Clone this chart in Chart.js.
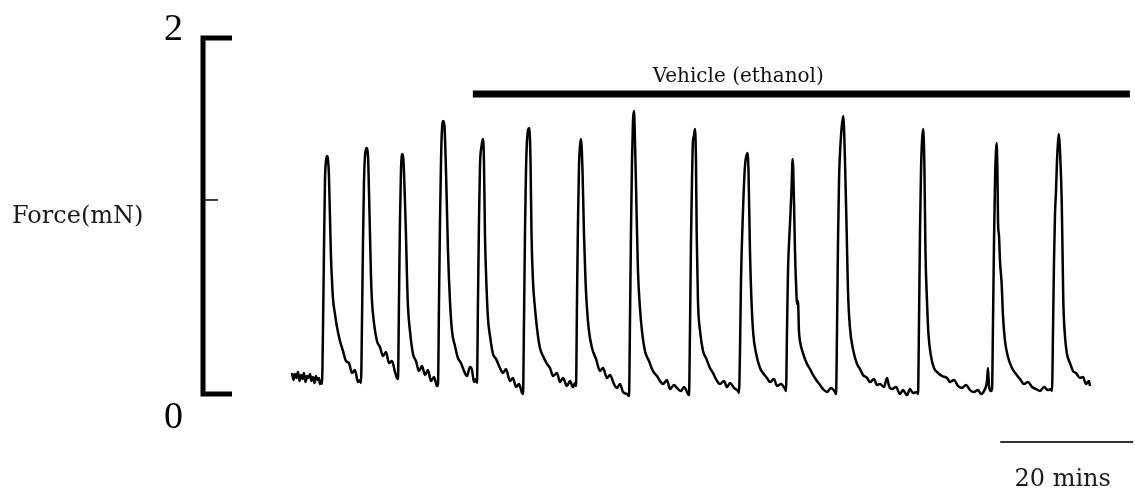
<!DOCTYPE html>
<html>
<head>
<meta charset="utf-8">
<script src="https://cdn.jsdelivr.net/npm/chart.js@4.4.1/dist/chart.umd.min.js"></script>
<style>
  html, body { margin: 0; padding: 0; background: #fff; }
  #wrap { width: 1135px; height: 488px; }
</style>
</head>
<body>
<div id="wrap"><canvas id="trace" width="1135" height="488"></canvas></div>
<script>
// isometric force recording, one line per contraction (time in min, force in mN)
const traceMinutes = [
  0.00, 0.23, 0.45, 0.68, 0.90, 1.13, 1.35, 1.58, 1.80, 2.03, 2.26, 2.48, 2.71, 2.93, 3.16, 3.38, 3.61, 3.83, 4.06, 4.21, 4.36,
  4.51, 4.66, 4.81, 4.96, 5.11, 5.26, 5.41, 5.56, 5.71, 5.86, 6.02, 6.17, 6.47, 6.77, 7.22, 7.67, 8.12, 8.57, 9.02, 9.47, 9.92, 10.23,
  10.38, 10.53, 10.68, 10.83, 10.98, 11.20, 11.43, 11.58, 11.73, 11.88, 12.03, 12.33, 12.78, 13.23, 13.68, 14.14, 14.59, 15.04, 15.49, 15.79,
  15.94, 16.09, 16.24, 16.39, 16.59, 16.77, 16.99, 17.14, 17.29, 17.44, 17.74, 18.20, 18.65, 19.10, 19.55, 20.00, 20.45, 20.90, 21.35, 21.81,
  21.96, 22.11, 22.26, 22.41, 22.56, 22.75, 22.93, 23.16, 23.31, 23.46, 23.76, 24.06, 24.51, 24.96, 25.41, 25.87, 26.32, 26.77, 27.07, 27.37, 27.67,
  27.82, 27.97, 28.12, 28.27, 28.50, 28.72, 28.87, 29.02, 29.17, 29.47, 29.78, 30.23, 30.68, 31.28, 31.73, 32.18, 32.78, 33.23, 33.69, 34.14, 34.59,
  34.74, 34.89, 35.04, 35.19, 35.34, 35.69, 35.87, 36.02, 36.24, 36.54, 36.99, 37.29, 37.75, 38.35, 38.80, 39.25, 39.85, 40.30, 40.75, 41.35, 41.81, 42.26, 42.56,
  42.71, 42.86, 43.01, 43.16, 43.31, 43.46, 43.69, 43.91, 44.14, 44.36, 44.66, 45.11, 45.72, 46.32, 46.77, 47.37, 47.82, 48.42, 48.87, 49.32, 49.78, 50.38,
  50.68, 50.83, 50.98, 51.13, 51.28, 51.43, 51.58, 51.84, 52.03, 52.33, 52.63, 53.08, 53.69, 54.29, 54.89, 55.34, 55.79, 56.39, 56.84, 57.44, 57.90, 58.50, 58.95, 59.55,
  59.70, 59.85, 60.00, 60.15, 60.30, 60.45, 60.60, 60.75, 60.86, 61.05, 61.36, 61.81, 62.26, 62.86, 63.31, 63.76, 64.36, 64.96, 65.42, 65.87, 66.47, 67.07,
  67.22, 67.37, 67.52, 67.82, 68.12, 68.47, 68.65, 68.87, 69.10, 69.37, 69.78, 70.38, 70.83, 71.43, 71.88, 72.48, 72.93, 73.54, 74.14,
  74.29, 74.44, 74.59, 74.89, 75.11, 75.29, 75.49, 75.64, 75.87, 75.94, 76.09, 76.24, 76.39, 76.84, 77.45, 77.90, 78.35, 78.95, 79.40, 79.85, 80.45, 81.05, 81.66,
  81.81, 81.96, 82.11, 82.26, 82.56, 82.90, 83.16, 83.42, 83.61, 83.91, 84.36, 84.96, 85.42, 85.87, 86.47, 86.92, 87.52, 87.97, 88.42, 89.02, 89.48, 89.78, 90.23, 90.83, 91.43, 91.88, 92.48, 92.93, 93.39, 93.99,
  94.14, 94.29, 94.44, 94.59, 94.74, 94.93, 95.11, 95.26, 95.49, 95.71, 96.09, 96.54, 97.15, 97.75, 98.50, 98.95, 99.55, 100.15, 100.75, 101.36, 101.96, 102.56, 103.16, 103.61, 104.06, 104.51, 104.66, 104.81, 105.12,
  105.27, 105.42, 105.57, 105.72, 105.97, 106.09, 106.17, 106.32, 106.47, 106.72, 106.92, 107.22, 107.67, 108.27, 108.88, 109.48, 110.08, 110.68, 111.28, 111.88, 112.48, 113.09, 113.69, 114.14,
  114.29, 114.44, 114.59, 114.74, 114.89, 115.04, 115.34, 115.49, 115.75, 115.87, 115.99, 116.24, 116.54, 116.99, 117.45, 117.90, 118.50, 118.95, 119.40, 119.85, 120.00
]
const traceForce = [
  0.118, 0.079, 0.112, 0.090, 0.124, 0.073, 0.107, 0.084, 0.118, 0.067, 0.101, 0.090, 0.112, 0.073, 0.096, 0.062, 0.101, 0.079, 0.090, 0.056, 0.073,
  0.056, 0.354, 0.803, 1.197, 1.309, 1.337, 1.320, 1.225, 1.000, 0.775, 0.635, 0.534, 0.449, 0.376, 0.298, 0.242, 0.185, 0.174, 0.118, 0.135, 0.067, 0.079,
  0.062, 0.410, 0.860, 1.197, 1.337, 1.382, 1.337, 1.140, 0.899, 0.663, 0.522, 0.399, 0.298, 0.264, 0.213, 0.236, 0.174, 0.185, 0.124, 0.090,
  0.084, 0.522, 0.972, 1.253, 1.348, 1.309, 1.084, 0.899, 0.663, 0.494, 0.354, 0.225, 0.185, 0.129, 0.157, 0.107, 0.135, 0.073, 0.096, 0.045,
  0.056, 0.522, 0.972, 1.309, 1.489, 1.534, 1.506, 1.253, 1.028, 0.803, 0.522, 0.354, 0.270, 0.202, 0.174, 0.129, 0.101, 0.152, 0.135, 0.067, 0.084,
  0.062, 0.522, 0.972, 1.281, 1.393, 1.433, 1.309, 0.899, 0.691, 0.427, 0.326, 0.225, 0.197, 0.146, 0.118, 0.140, 0.073, 0.090, 0.039, 0.056, 0.006,
  0.000, 0.410, 0.916, 1.253, 1.421, 1.494, 1.309, 0.899, 0.635, 0.483, 0.326, 0.258, 0.213, 0.169, 0.146, 0.101, 0.118, 0.067, 0.090, 0.045, 0.073, 0.039, 0.062,
  0.045, 0.522, 0.972, 1.281, 1.393, 1.433, 1.253, 0.899, 0.635, 0.483, 0.354, 0.258, 0.197, 0.129, 0.146, 0.090, 0.107, 0.056, 0.034, 0.056, 0.011, 0.000,
  -0.011, 0.410, 0.916, 1.309, 1.534, 1.590, 1.421, 0.989, 0.691, 0.483, 0.354, 0.242, 0.185, 0.129, 0.101, 0.073, 0.056, 0.079, 0.028, 0.051, 0.034, 0.017, 0.039, 0.000,
  -0.006, 0.354, 0.860, 1.197, 1.421, 1.449, 1.489, 1.309, 0.899, 0.522, 0.354, 0.242, 0.202, 0.146, 0.118, 0.084, 0.056, 0.073, 0.039, 0.062, 0.034, 0.017,
  0.006, 0.242, 0.635, 1.028, 1.281, 1.354, 1.253, 0.803, 0.522, 0.337, 0.230, 0.146, 0.118, 0.090, 0.067, 0.084, 0.045, 0.056, 0.028,
  0.017, 0.354, 0.691, 0.955, 1.140, 1.320, 1.084, 0.803, 0.551, 0.506, 0.522, 0.354, 0.298, 0.230, 0.169, 0.140, 0.107, 0.073, 0.051, 0.028, 0.011, 0.034, 0.011,
  0.000, 0.354, 0.860, 1.197, 1.449, 1.562, 1.309, 0.899, 0.579, 0.371, 0.253, 0.169, 0.140, 0.107, 0.090, 0.067, 0.084, 0.051, 0.056, 0.039, 0.090, 0.045, 0.028, 0.039, 0.000, 0.022, -0.006, 0.028, 0.006, 0.011,
  0.000, 0.410, 0.916, 1.253, 1.421, 1.489, 1.253, 0.803, 0.522, 0.337, 0.213, 0.146, 0.118, 0.101, 0.090, 0.067, 0.079, 0.045, 0.034, 0.051, 0.022, 0.011, 0.022, 0.000, 0.017, 0.073, 0.146, 0.045, 0.017,
  0.028, 0.410, 0.860, 1.197, 1.410, 1.225, 0.972, 0.888, 0.747, 0.618, 0.438, 0.298, 0.208, 0.146, 0.112, 0.084, 0.056, 0.067, 0.039, 0.028, 0.017, 0.039, 0.022, 0.028,
  0.017, 0.354, 0.747, 1.011, 1.140, 1.309, 1.461, 1.365, 1.084, 0.803, 0.522, 0.326, 0.225, 0.174, 0.129, 0.118, 0.090, 0.096, 0.056, 0.073, 0.045
]

// bracket ends and the small inner tick
const forceTicks = [0, 1.09, 2]
const forceTickLabels = ['0', '', '2']
const forceTitle = 'Force(mN)'

// treatment bar and time calibration (minutes)
const vehicleLabel = 'Vehicle (ethanol)'
const vehicleStart = 27.2
const vehicleEnd = 126.0
const vehicleLabelAt = 67.1
const vehicleLevel = 1.685
const scaleBarStart = 106.5
const scaleBarMinutes = 20
const scaleBarLabel = '20 mins'

const decorPlugin = {
  id: 'decor',
  afterDraw(chart) {
    const { ctx, chartArea, scales: { x, y } } = chart
    const left = chartArea.left
    const yTop = y.getPixelForValue(forceTicks[forceTicks.length - 1])
    const yBottom = y.getPixelForValue(forceTicks[0])
    ctx.save()
    ctx.strokeStyle = '#000'
    ctx.fillStyle = '#000'

    // force calibration bracket
    ctx.lineWidth = 5
    ctx.lineJoin = 'miter'
    ctx.beginPath()
    ctx.moveTo(left + 29, yTop)
    ctx.lineTo(left, yTop)
    ctx.lineTo(left, yBottom)
    ctx.lineTo(left + 29, yBottom)
    ctx.stroke()

    // inner ticks without labels
    ctx.lineWidth = 1.5
    forceTicks.forEach((v, i) => {
      if (forceTickLabels[i]) return
      const py = y.getPixelForValue(v)
      ctx.beginPath()
      ctx.moveTo(left, py)
      ctx.lineTo(left + 15, py)
      ctx.stroke()
    })

    ctx.font = '38px "Liberation Serif"'
    ctx.textAlign = 'right'
    ctx.textBaseline = 'alphabetic'
    forceTicks.forEach((v, i) => {
      if (!forceTickLabels[i]) return
      const py = y.getPixelForValue(v)
      const off = v === 0 ? 34 : 2
      ctx.fillText(forceTickLabels[i], left - 20, py + off)
    })

    ctx.fillStyle = '#1a1a1a'
    ctx.font = '24px "DejaVu Serif"'
    ctx.textAlign = 'left'
    ctx.fillText(forceTitle, 12, 223)

    // vehicle bar
    const vy = y.getPixelForValue(vehicleLevel)
    ctx.lineWidth = 7
    ctx.beginPath()
    ctx.moveTo(x.getPixelForValue(vehicleStart), vy)
    ctx.lineTo(x.getPixelForValue(vehicleEnd), vy)
    ctx.stroke()
    ctx.fillStyle = '#111'
    ctx.font = '20px "DejaVu Serif"'
    ctx.textAlign = 'center'
    ctx.fillText(vehicleLabel, x.getPixelForValue(vehicleLabelAt), vy - 12)

    // time scale bar
    const sy = yBottom + 48
    const sx0 = x.getPixelForValue(scaleBarStart)
    const sx1 = x.getPixelForValue(scaleBarStart + scaleBarMinutes)
    ctx.strokeStyle = '#333'
    ctx.lineWidth = 2
    ctx.beginPath()
    ctx.moveTo(sx0, sy)
    ctx.lineTo(sx1, sy)
    ctx.stroke()
    ctx.fillStyle = '#1a1a1a'
    ctx.font = '24px "DejaVu Serif"'
    ctx.fillText(scaleBarLabel, (sx0 + sx1) / 2 - 4, sy + 44)
    ctx.restore()
  }
}

new Chart(document.getElementById('trace'), {
  type: 'line',
  data: {
    datasets: [{
      data: traceMinutes.map((t, i) => ({ x: t, y: traceForce[i] })),
      borderColor: '#000',
      borderWidth: 2.5,
      pointRadius: 0,
      cubicInterpolationMode: 'monotone',
      clip: false
    }]
  },
  options: {
    responsive: false,
    animation: false,
    devicePixelRatio: 1,
    layout: { padding: { left: 203, right: 0, top: 38, bottom: 94 } },
    plugins: { legend: { display: false }, tooltip: { enabled: false } },
    scales: {
      x: { type: 'linear', display: false, min: -13.38, max: 126.77 },
      y: { display: false, min: 0, max: 2 }
    }
  },
  plugins: [decorPlugin]
})
</script>
</body>
</html>
